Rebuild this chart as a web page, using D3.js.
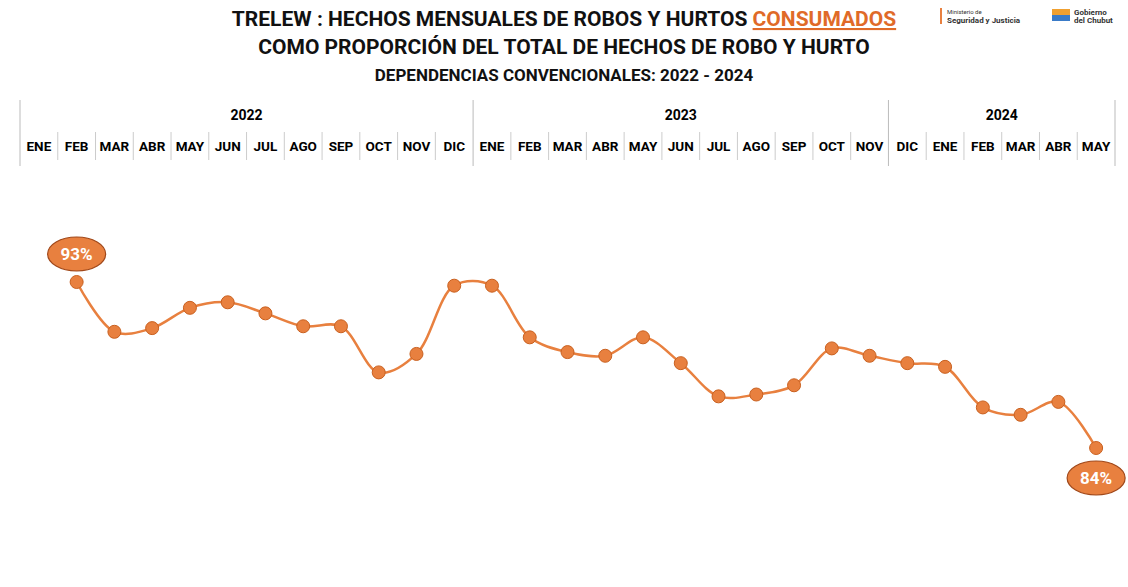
<!DOCTYPE html>
<html><head><meta charset="utf-8">
<script src="https://cdn.jsdelivr.net/npm/d3@7"></script>
<style>body{margin:0;background:#fff;font-family:Roboto,"Liberation Sans",sans-serif}</style>
</head><body><svg id="c" width="1128" height="587"></svg>
<script>
const months = ["ENE","FEB","MAR","ABR","MAY","JUN","JUL","AGO","SEP","OCT","NOV","DIC",
  "ENE","FEB","MAR","ABR","MAY","JUN","JUL","AGO","SEP","OCT","NOV","DIC","ENE","FEB","MAR","ABR","MAY"];
const years = [{label:"2022", from:0, to:12},{label:"2023", from:12, to:23},{label:"2024", from:23, to:29}];
// values start at FEB 2022 (index 1)
const values = [93.0,90.3,90.5,91.6,91.9,91.3,90.6,90.6,88.1,89.1,92.8,
  92.8,90.0,89.2,89.0,90.0,88.6,86.8,86.9,87.4,89.4,89.0,88.6,88.4,86.2,85.8,86.5,84.0];
const orange = "#e8803f";

const svg = d3.select("#c");
const x = d3.scaleBand().domain(d3.range(months.length)).range([20,1115]);
const y = d3.scaleLinear().domain([84,93]).range([448,282]);

// title
const t = svg.append("g").attr("text-anchor","middle").attr("font-weight","bold").attr("fill","#111");
const l1 = t.append("text").attr("x",564).attr("y",26).attr("font-size",21);
l1.append("tspan").text("TRELEW : HECHOS MENSUALES DE ROBOS Y HURTOS ");
l1.append("tspan").attr("fill","#e06a28").attr("text-decoration","underline").text("CONSUMADOS");
t.append("text").attr("x",564).attr("y",54).attr("font-size",21).text("COMO PROPORCIÓN DEL TOTAL DE HECHOS DE ROBO Y HURTO");
t.append("text").attr("x",564).attr("y",81).attr("font-size",17).text("DEPENDENCIAS CONVENCIONALES: 2022 - 2024");

// logos
const lg = svg.append("g").attr("font-size",8).attr("fill","#333");
lg.append("rect").attr("x",940).attr("y",8).attr("width",2).attr("height",16).attr("fill","#e8803f");
lg.append("text").attr("x",947).attr("y",14).attr("font-size",6).text("Ministerio de");
lg.append("text").attr("x",947).attr("y",23).attr("font-weight","bold").text("Seguridad y Justicia");
lg.append("rect").attr("x",1052).attr("y",9).attr("width",18).attr("height",12).attr("fill","#f0a030");
lg.append("rect").attr("x",1052).attr("y",15).attr("width",18).attr("height",6).attr("fill","#3a7bc8");
lg.append("text").attr("x",1074).attr("y",15).attr("font-weight","bold").text("Gobierno");
lg.append("text").attr("x",1074).attr("y",23).attr("font-weight","bold").text("del Chubut");

// header table
const h = svg.append("g");
const bounds = [0,12,23,29];
h.selectAll("line.y").data(bounds).join("line")
  .attr("x1",d=>d===29?1115:x(d)).attr("x2",d=>d===29?1115:x(d))
  .attr("y1",100).attr("y2",166).attr("stroke","#bbb");
h.selectAll("line.m").data(d3.range(1,29).filter(i=>!bounds.includes(i))).join("line")
  .attr("x1",d=>x(d)).attr("x2",d=>x(d)).attr("y1",132).attr("y2",160).attr("stroke","#ccc");
h.selectAll("text.yr").data(years).join("text")
  .attr("x",d=>(x(d.from)+(d.to===29?1115:x(d.to)))/2).attr("y",120)
  .attr("text-anchor","middle").attr("font-size",14).attr("font-weight","bold").text(d=>d.label);
h.selectAll("text.mo").data(months).join("text")
  .attr("x",(d,i)=>x(i)+x.bandwidth()/2).attr("y",151)
  .attr("text-anchor","middle").attr("font-size",13.5).attr("font-weight","bold").text(d=>d);

// line
const pts = values.map((v,i)=>({i:i+1,v}));
const cx = d=>x(d.i)+x.bandwidth()/2;
svg.append("path").datum(pts)
  .attr("d",d3.line().x(cx).y(d=>y(d.v)).curve(d3.curveCatmullRom.alpha(0.5)))
  .attr("fill","none").attr("stroke",orange).attr("stroke-width",2.5);
svg.selectAll("circle.p").data(pts).join("circle")
  .attr("cx",cx).attr("cy",d=>y(d.v)).attr("r",6.5)
  .attr("fill",orange).attr("stroke","#c9601f").attr("stroke-width",1);

// callouts
const first = pts[0], last = pts[pts.length-1];
[[first,-28],[last,30]].forEach(([d,dy])=>{
  svg.append("ellipse").attr("cx",cx(d)).attr("cy",y(d.v)+dy).attr("rx",29).attr("ry",17)
    .attr("fill",orange).attr("stroke","#a0481a").attr("stroke-width",1.2);
  svg.append("text").attr("x",cx(d)).attr("y",y(d.v)+dy+6).attr("text-anchor","middle")
    .attr("fill","#fff").attr("font-size",17).attr("font-weight","bold").text(Math.round(d.v)+"%");
});
</script></body></html>
